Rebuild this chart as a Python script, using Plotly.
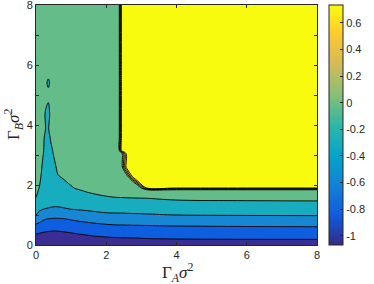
import plotly.graph_objects as go

# Grid (Gamma_A sigma^2 along x, Gamma_B sigma^2 along y)
gamma_a = [0, 0.1, 0.2, 0.28, 0.35, 0.42, 0.5, 0.62, 0.8, 1.1, 1.5, 2.0,
           2.36, 2.44, 2.58, 2.75, 2.95, 3.15, 4.0, 6.0, 8.0]
gamma_b = [0, 0.3, 0.6, 0.9, 1.2, 1.5, 1.83, 1.91, 2.1, 2.3, 2.6, 3.05, 3.15,
           3.6, 3.9, 4.3, 4.8, 5.15, 5.4, 5.65, 6.5, 8.0]

# Field values, one row per gamma_b value
row_000 = [-1.00, -1.03, -1.04, -1.045, -1.05, -1.05, -1.05, -1.05, -1.05, -1.05, -1.05, -1.05, -1.05, -1.05, -1.05, -1.05, -1.05, -1.05, -1.05, -1.05, -1.05]
row_030 = [-0.83, -0.845, -0.86, -0.87, -0.875, -0.88, -0.885, -0.88, -0.87, -0.84, -0.81, -0.77, -0.74, -0.74, -0.735, -0.73, -0.72, -0.70, -0.675, -0.655, -0.65]
row_060 = [-0.68, -0.70, -0.71, -0.72, -0.725, -0.73, -0.735, -0.73, -0.72, -0.70, -0.68, -0.655, -0.64, -0.64, -0.638, -0.635, -0.633, -0.63, -0.62, -0.61, -0.605]
row_090 = [-0.43, -0.50, -0.56, -0.58, -0.588, -0.592, -0.595, -0.595, -0.59, -0.56, -0.52, -0.47, -0.46, -0.46, -0.458, -0.455, -0.453, -0.45, -0.44, -0.43, -0.425]
row_120 = [-0.34, -0.37, -0.395, -0.405, -0.41, -0.415, -0.42, -0.42, -0.41, -0.39, -0.37, -0.35, -0.35, -0.35, -0.348, -0.345, -0.343, -0.34, -0.32, -0.325, -0.33]
row_150 = [-0.21, -0.26, -0.31, -0.32, -0.33, -0.335, -0.34, -0.34, -0.33, -0.29, -0.26, -0.225, -0.22, -0.22, -0.218, -0.217, -0.216, -0.215, -0.199, -0.19, -0.185]
row_183 = [-0.17, -0.215, -0.27, -0.29, -0.30, -0.295, -0.29, -0.28, -0.26, -0.215, -0.18, -0.16, -0.14, -0.14, -0.138, -0.135, -0.133, -0.13, -0.125, -0.12, -0.12]
row_191 = [-0.16, -0.205, -0.26, -0.285, -0.295, -0.29, -0.285, -0.27, -0.25, -0.195, -0.17, -0.15, -0.135, -0.135, -0.132, -0.13, -0.13, 0.70, 0.70, 0.70, 0.70]
row_210 = [-0.15, -0.19, -0.245, -0.275, -0.285, -0.28, -0.27, -0.24, -0.21, -0.17, -0.15, -0.14, -0.13, -0.13, -0.13, -0.125, 0.70, 0.70, 0.70, 0.70, 0.70]
row_230 = [-0.145, -0.175, -0.235, -0.265, -0.275, -0.27, -0.255, -0.205, -0.185, -0.15, -0.13, -0.13, -0.125, -0.125, -0.125, 0.70, 0.70, 0.70, 0.70, 0.70, 0.70]
row_260 = [-0.14, -0.16, -0.22, -0.25, -0.26, -0.255, -0.23, -0.18, -0.16, -0.13, -0.125, -0.125, -0.12, -0.12, 0.70, 0.70, 0.70, 0.70, 0.70, 0.70, 0.70]
row_305 = [-0.135, -0.15, -0.195, -0.235, -0.24, -0.225, -0.195, -0.16, -0.14, -0.125, -0.12, -0.12, -0.12, -0.12, 0.70, 0.70, 0.70, 0.70, 0.70, 0.70, 0.70]
row_315 = [-0.135, -0.15, -0.19, -0.232, -0.238, -0.22, -0.19, -0.155, -0.14, -0.125, -0.12, -0.12, -0.12, 0.70, 0.70, 0.70, 0.70, 0.70, 0.70, 0.70, 0.70]
row_360 = [-0.13, -0.145, -0.18, -0.225, -0.228, -0.189, -0.16, -0.14, -0.13, -0.12, -0.12, -0.12, -0.12, 0.70, 0.70, 0.70, 0.70, 0.70, 0.70, 0.70, 0.70]
row_390 = [-0.13, -0.14, -0.175, -0.202, -0.203, -0.18, -0.15, -0.135, -0.125, -0.12, -0.12, -0.12, -0.12, 0.70, 0.70, 0.70, 0.70, 0.70, 0.70, 0.70, 0.70]
row_430 = [-0.13, -0.14, -0.17, -0.215, -0.24, -0.17, -0.145, -0.13, -0.125, -0.12, -0.12, -0.12, -0.12, 0.70, 0.70, 0.70, 0.70, 0.70, 0.70, 0.70, 0.70]
row_480 = [-0.125, -0.135, -0.16, -0.185, -0.195, -0.16, -0.14, -0.13, -0.12, -0.12, -0.12, -0.12, -0.12, 0.70, 0.70, 0.70, 0.70, 0.70, 0.70, 0.70, 0.70]
row_515 = [-0.125, -0.13, -0.155, -0.17, -0.18, -0.16, -0.14, -0.13, -0.12, -0.12, -0.12, -0.12, -0.12, 0.70, 0.70, 0.70, 0.70, 0.70, 0.70, 0.70, 0.70]
row_540 = [-0.125, -0.13, -0.155, -0.175, -0.23, -0.17, -0.14, -0.13, -0.12, -0.12, -0.12, -0.12, -0.12, 0.70, 0.70, 0.70, 0.70, 0.70, 0.70, 0.70, 0.70]
row_565 = [-0.125, -0.13, -0.15, -0.165, -0.175, -0.155, -0.14, -0.13, -0.12, -0.12, -0.12, -0.12, -0.12, 0.70, 0.70, 0.70, 0.70, 0.70, 0.70, 0.70, 0.70]
row_650 = [-0.12, -0.125, -0.14, -0.15, -0.155, -0.15, -0.135, -0.125, -0.12, -0.12, -0.12, -0.12, -0.12, 0.70, 0.70, 0.70, 0.70, 0.70, 0.70, 0.70, 0.70]
row_800 = [-0.12, -0.12, -0.13, -0.135, -0.135, -0.135, -0.13, -0.12, -0.12, -0.12, -0.12, -0.12, -0.12, 0.70, 0.70, 0.70, 0.70, 0.70, 0.70, 0.70, 0.70]

field = [row_000, row_030, row_060, row_090, row_120, row_150, row_183, row_191,
         row_210, row_230, row_260, row_305, row_315, row_360, row_390, row_430,
         row_480, row_515, row_540, row_565, row_650, row_800]

levels_start, levels_end, levels_step = -0.8, 0.6, 0.2
cbar_min, cbar_max = -1.068, 0.733
cbar_ticks = [-1, -0.8, -0.6, -0.4, -0.2, 0, 0.2, 0.4, 0.6]
cbar_text = ["-1", "-0.8", "-0.6", "-0.4", "-0.2", "0", "0.2", "0.4", "0.6"]
x_ticks = [0, 2, 4, 6, 8]
y_ticks = [0, 2, 4, 6, 8]
y_minor_ticks = [1, 3, 5, 7]
x_title = "Γ<sub><i>A</i></sub><i>σ</i><sup>2</sup>"
y_title = "Γ<sub><i>B</i></sub><i>σ</i><sup>2</sup>"

# Styles
parula = [[0.0, "#352a87"], [0.125, "#0f5cdd"], [0.25, "#1481d6"], [0.375, "#06a4ca"],
          [0.5, "#2eb7a4"], [0.625, "#87bf77"], [0.75, "#d1bb59"], [0.875, "#fec832"],
          [1.0, "#f9fb0e"]]
band_colors = ["#3a2e93", "#0d5fdf", "#1787d4", "#17adbf", "#64bd88",
               "#9cbf6f", "#dcbb52", "#fdd02e", "#f9fb0e"]
fill_scale = [[i / (len(band_colors) - 1), c] for i, c in enumerate(band_colors)]
ink = "#262626"
tick_font = dict(family="Liberation Sans, Arial, sans-serif", size=11, color=ink)
title_font = dict(family="Liberation Serif, DejaVu Serif, serif", size=17, color=ink)

fig = go.Figure()
fig.add_trace(go.Contour(
    x=gamma_a, y=gamma_b, z=field,
    contours=dict(start=levels_start, end=levels_end, size=levels_step, coloring="fill"),
    colorscale=fill_scale, showscale=False,
    line=dict(color="black", width=0.9, smoothing=1),
    hoverinfo="skip",
))
fig.add_trace(go.Scatter(
    x=[0, 0], y=[0, 0], mode="markers", hoverinfo="skip", showlegend=False,
    marker=dict(size=1, opacity=0, color=[cbar_min, cbar_max], colorscale=parula,
                cmin=cbar_min, cmax=cbar_max, showscale=True,
                colorbar=dict(x=1.042, xanchor="left", y=0.5, yanchor="middle",
                              len=1.0, lenmode="fraction", thickness=14,
                              xpad=0, ypad=0, outlinewidth=1, outlinecolor=ink,
                              ticks="inside", ticklen=3, tickcolor=ink,
                              tickvals=cbar_ticks, ticktext=cbar_text,
                              ticklabeloverflow="allow", tickfont=tick_font)),
))

axis_common = dict(showline=True, mirror="ticks", linecolor=ink, linewidth=1,
                   ticks="inside", ticklen=3, tickcolor=ink, showgrid=False,
                   zeroline=False, tickfont=tick_font, automargin=False,
                   ticklabeloverflow="allow")
fig.update_layout(
    width=374, height=284,
    margin=dict(l=36, r=53, t=5, b=39),
    paper_bgcolor="white", plot_bgcolor="white",
    showlegend=False,
    xaxis=dict(range=[0, 8], tickvals=x_ticks, ticktext=[str(v) for v in x_ticks],
               **axis_common),
    yaxis=dict(range=[0, 8], tickvals=y_ticks, ticktext=[str(v) for v in y_ticks],
               minor=dict(tickvals=y_minor_ticks, ticks="inside", ticklen=3,
                          tickcolor=ink, showgrid=False),
               **axis_common),
    annotations=[
        dict(text=x_title, xref="paper", yref="paper", x=0.505, y=0,
             xanchor="center", yanchor="middle", yshift=-27, showarrow=False,
             font=title_font),
        dict(text=y_title, xref="paper", yref="paper", x=0, y=0.5,
             xanchor="center", yanchor="middle", xshift=-23, textangle=-90,
             showarrow=False, font=title_font),
    ],
)
fig.write_html("out.html", config={"displayModeBar": False},
               post_script="document.body.style.margin='0px';")
